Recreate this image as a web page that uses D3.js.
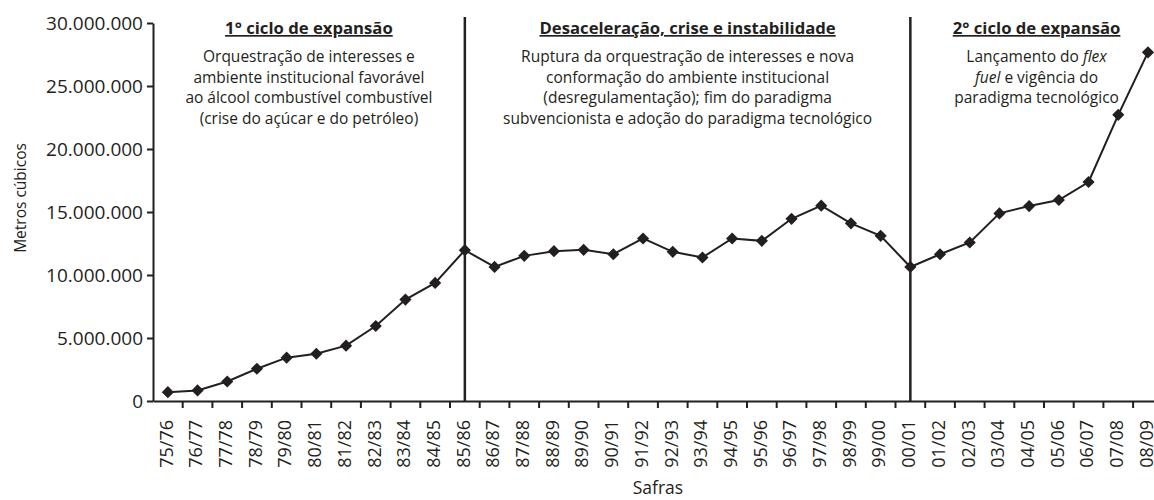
<!DOCTYPE html>
<html lang="pt">
<head>
<meta charset="UTF-8">
<title>Produção de álcool por safra</title>
<script src="https://d3js.org/d3.v7.min.js"></script>
<style>
    body { margin: 0; background: #fff; }
    svg { display: block; }
    text { font-family: "Open Sans", "Noto Sans", sans-serif; fill: #231f20; }
    .axis path, .axis line { stroke: #231f20; stroke-width: 2px; }
    .titulo { font-weight: bold; text-decoration: underline; }
</style>
</head>
<body>
<div id="chart"></div>
<script>
    // safras (categorias)
    const safras = ["75/76","76/77","77/78","78/79","79/80","80/81","81/82","82/83","83/84","84/85",
        "85/86","86/87","87/88","88/89","89/90","90/91","91/92","92/93","93/94","94/95",
        "95/96","96/97","97/98","98/99","99/00","00/01","01/02","02/03","03/04","04/05",
        "05/06","06/07","07/08","08/09"];

    // produção em metros cúbicos
    const producao = [700000, 840000, 1550000, 2560000, 3440000, 3750000, 4390000, 5950000, 8050000, 9370000,
        11970000, 10640000, 11520000, 11890000, 12000000, 11650000, 12900000, 11840000, 11390000, 12900000,
        12710000, 14460000, 15500000, 14100000, 13110000, 10640000, 11650000, 12580000, 14890000, 15470000,
        15950000, 17380000, 22710000, 27670000];

    const yTicks = [0, 5000000, 10000000, 15000000, 20000000, 25000000, 30000000];

    // divisões entre os períodos
    const divisoes = ["85/86", "00/01"];

    const titulos = ["1° ciclo de expansão", "Desaceleração, crise e instabilidade", "2° ciclo de expansão"];
    const textos = [
        [[["Orquestração de interesses e"]], [["ambiente institucional favorável"]],
         [["ao álcool combustível combustível"]], [["(crise do açúcar e do petróleo)"]]],
        [[["Ruptura da orquestração de interesses e nova"]], [["conformação do ambiente institucional"]],
         [["(desregulamentação); fim do paradigma"]], [["subvencionista e adoção do paradigma tecnológico"]]],
        [[["Lançamento do "], ["flex", true]], [["fuel", true], [" e vigência do"]], [["paradigma tecnológico"]]]
    ];

    const width = 1154, height = 500;
    const mLeft = 153, mRight = 1162.8, mTop = 23, mBottom = 401;

    const svg = d3.select("#chart").append("svg")
        .attr("width", width)
        .attr("height", height);

    const x = d3.scaleBand().domain(safras).range([mLeft, mRight]);
    const y = d3.scaleLinear().domain([0, 30000000]).range([mBottom, mTop]);

    const fmt = v => d3.format(",")(v).replace(/,/g, ".");

    // eixo y
    const yAxis = svg.append("g")
        .attr("class", "axis")
        .attr("transform", `translate(${mLeft},0)`)
        .call(d3.axisLeft(y).tickValues(yTicks).tickFormat(fmt).tickSize(6).tickSizeOuter(0).tickPadding(4));
    yAxis.selectAll("text").style("font-size", "19px");

    // eixo x
    const xAxis = svg.append("g")
        .attr("class", "axis")
        .attr("transform", `translate(0,${mBottom})`)
        .call(d3.axisBottom(x).tickSize(0).tickSizeOuter(0).tickPadding(0));
    xAxis.selectAll(".tick text")
        .style("font-size", "18px")
        .attr("text-anchor", "end")
        .attr("transform", "rotate(-90)")
        .attr("x", -19)
        .attr("y", -1.5)
        .attr("dy", "0.35em");

    // marcas entre as safras
    xAxis.selectAll(".divisao")
        .data(safras.slice(1))
        .enter()
        .append("line")
        .attr("x1", d => x(d))
        .attr("x2", d => x(d))
        .attr("y1", 0)
        .attr("y2", 7);

    svg.append("text")
        .attr("x", (mLeft + mRight) / 2)
        .attr("y", 494)
        .attr("text-anchor", "middle")
        .style("font-size", "17.5px")
        .text("Safras");

    svg.append("text")
        .attr("transform", `translate(26,198) rotate(-90)`)
        .attr("text-anchor", "middle")
        .style("font-size", "15.5px")
        .text("Metros cúbicos");

    // linhas verticais dos períodos
    const cx = d => x(d) + x.bandwidth() / 2;
    svg.selectAll(".periodo")
        .data(divisoes)
        .enter()
        .append("line")
        .attr("x1", cx)
        .attr("x2", cx)
        .attr("y1", 17)
        .attr("y2", mBottom)
        .attr("stroke", "#231f20")
        .attr("stroke-width", 2.5);

    // série
    const line = d3.line()
        .x((d, i) => cx(safras[i]))
        .y(d => y(d));

    svg.append("path")
        .datum(producao)
        .attr("fill", "none")
        .attr("stroke", "#231f20")
        .attr("stroke-width", 2)
        .attr("d", line);

    svg.selectAll(".ponto")
        .data(producao)
        .enter()
        .append("path")
        .attr("d", d3.symbol().type(d3.symbolSquare).size(74))
        .attr("transform", (d, i) => `translate(${cx(safras[i])},${y(d)}) rotate(45)`)
        .attr("fill", "#231f20");

    // textos dos períodos
    const limites = [mLeft, cx(divisoes[0]), cx(divisoes[1]), mRight];
    titulos.forEach((t, k) => {
        const mx = (limites[k] + limites[k + 1]) / 2;
        svg.append("text")
            .attr("class", "titulo")
            .attr("x", mx)
            .attr("y", 34)
            .attr("text-anchor", "middle")
            .style("font-size", "16.7px")
            .text(t);
        textos[k].forEach((linha, j) => {
            const tx = svg.append("text")
                .attr("x", mx)
                .attr("y", 62 + j * 20.5)
                .attr("text-anchor", "middle")
                .style("font-size", "15.5px");
            linha.forEach(seg => {
                tx.append("tspan")
                    .style("font-style", seg[1] ? "italic" : "normal")
                    .text(seg[0]);
            });
        });
    });
</script>
</body>
</html>
